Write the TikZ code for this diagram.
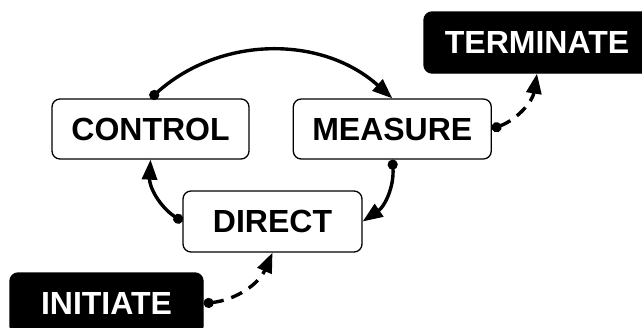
\documentclass[tikz,border=0pt]{standalone}
\usepackage{fontspec}
\setmainfont{Liberation Sans}
\usetikzlibrary {arrows.meta,positioning}

\begin{document}
\begin{tikzpicture}[x=1pt, y=1pt, node distance= 43pt,
    stagebox/.style={draw, line width=1.3pt, rounded corners=8pt, inner sep=0pt,
      minimum height=60pt, font=\fontsize{32}{32}\selectfont\bfseries},
    endbox/.style={stagebox, fill=black, text=white, minimum height=61pt},
    flow/.style={line width=3.4pt, {Circle[length=10pt]}-{Triangle[length=20pt,width=15pt]}},
    hint/.style={flow, dash pattern=on 12pt off 8pt}]
      \useasboundingbox (0,0) rectangle (642,-327);
      \begin{scope}[every node/.style={stagebox}]
        \node (control) [minimum width=197pt] at (150.5,-129) {CONTROL};
        \node (measure) [minimum width=198pt, right= of control] {MEASURE};
        \node (direct) [minimum width=179pt, minimum height=61pt] at (272.5,-221.5) {DIRECT};
      \end{scope}
      \node (initiate) [endbox, minimum width=193pt] at (106.5,-303.5) {INITIATE};
      \node (terminate) [endbox, minimum width=226pt] at (537,-42.5) {TERMINATE};
      \begin{scope}
        [every edge/.style={draw= black, flow}]
        \path (control.north) edge[bend left= 42] (measure.north);
        \path (measure.south) edge[bend left= 30] (direct.east);
        \path (direct.west) edge[bend left= 30] (control.south);
        \path (initiate.east) edge[hint, bend right= 30] (direct.south);
        \path (measure.east) edge[hint, bend right= 30] (terminate.south);
      \end{scope}
    \end{tikzpicture}
\end{document}
